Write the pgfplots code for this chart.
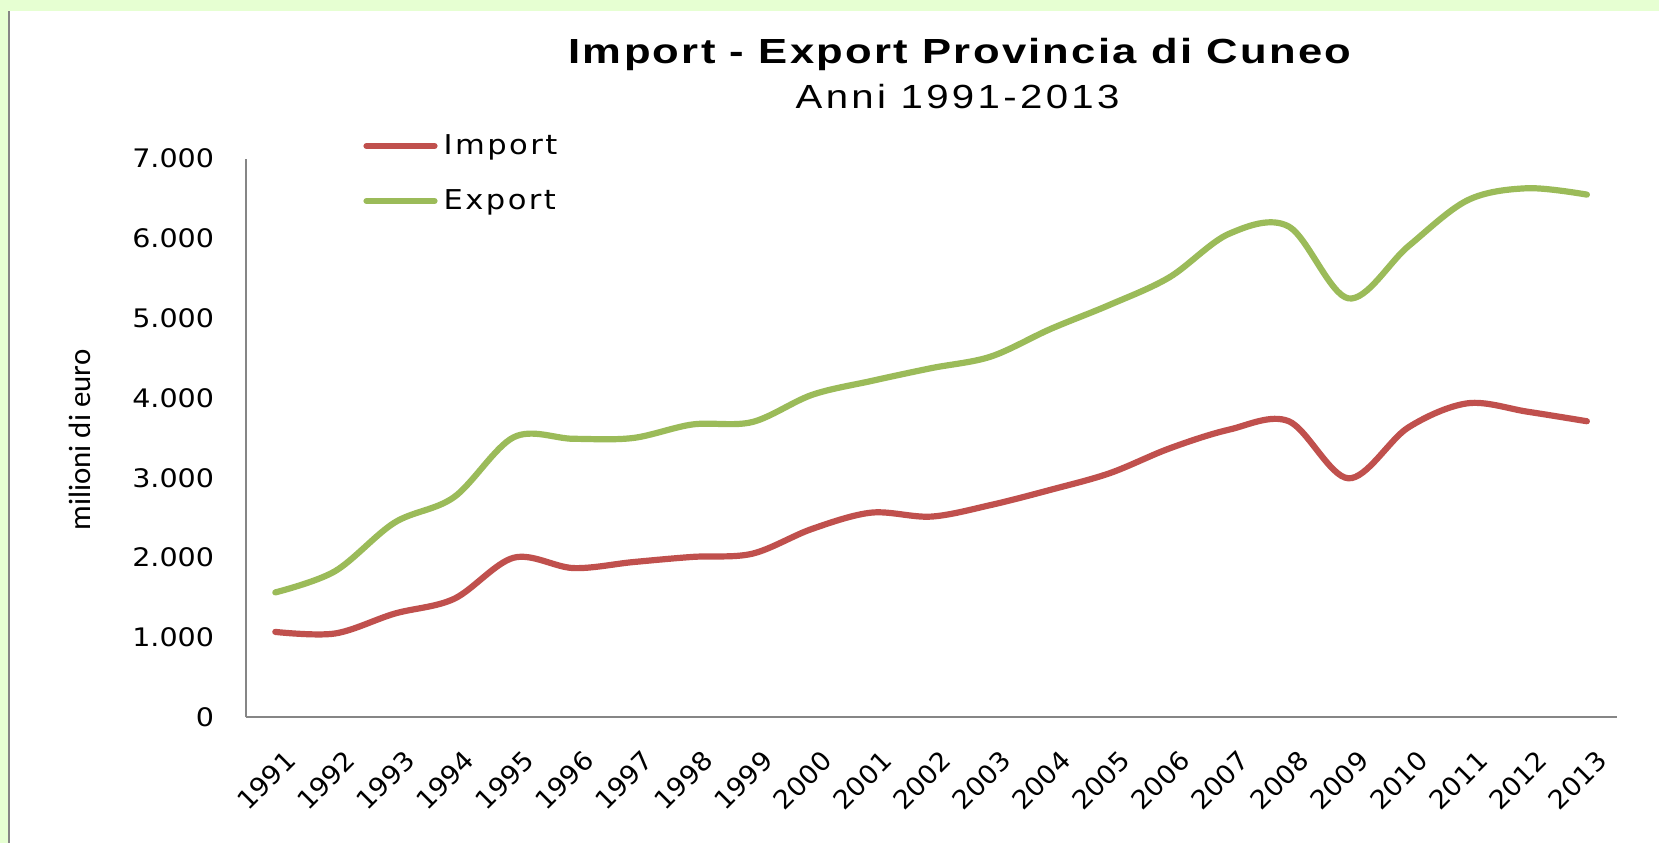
\documentclass[border=0pt]{standalone}
\usepackage{fontspec}
\usepackage{pgfplots}
\pgfplotsset{compat=1.18}
\setmainfont{DejaVu Sans}
\newfontfamily\titlefont[FakeStretch=1.25,LetterSpace=6.5]{Liberation Sans}
\newfontfamily\subfont[FakeStretch=1.2,LetterSpace=10]{Liberation Sans}
\newfontfamily\tickfont[FakeStretch=1.12]{DejaVu Sans}
\newfontfamily\xtickfont[FakeStretch=1.05]{DejaVu Sans}
\newfontfamily\legfont[FakeStretch=1.12,LetterSpace=9]{DejaVu Sans}
\newfontfamily\ylfont{Carlito}
\definecolor{imp}{RGB}{192,80,77}
\definecolor{exp}{RGB}{155,187,89}
\definecolor{bgg}{RGB}{230,255,210}
\definecolor{axg}{RGB}{134,134,134}
\begin{document}
\begin{tikzpicture}
\fill[white] (0,0) rectangle (829.5bp,421.5bp);
\fill[bgg] (0,416bp) rectangle (829.5bp,421.5bp);
\fill[bgg] (0,0) rectangle (4bp,416bp);
\fill[axg] (4bp,0) rectangle (5bp,416bp);
\begin{axis}[
  at={(122.75bp,62.85bp)}, anchor=south west,
  scale only axis, width=685.6bp, height=279.3bp,
  xmin=1990.5, xmax=2013.5, ymin=0, ymax=7000,
  axis lines*=left,
  axis line style={axg, line width=1bp},
  major tick length=0pt,
  xtick={1991,...,2013},
  ytick={0,1000,...,7000},
  /pgf/number format/assume math mode=true,
  xticklabel={\xtickfont\fontsize{13}{15}\selectfont\pgfmathprintnumber[1000 sep={}]{\tick}},
  yticklabel={\tickfont\fontsize{12.8}{15}\selectfont\pgfmathprintnumber[1000 sep={.}]{\tick}},
  x tick label style={rotate=45, anchor=north east, inner sep=0pt, xshift=-8bp, yshift=-14bp},
  y tick label style={anchor=east, inner sep=0pt, xshift=-15.5bp},
  clip=false,
  legend style={at={(axis description cs:0.0857,0.9735)}, anchor=west, draw=none, fill=none,
    inner sep=0pt, row sep=0pt, column sep=3bp,
    nodes={inner sep=0pt, minimum height=27.5bp, font=\legfont\fontsize{13.7}{16}\selectfont}},
  legend cell align=left,
  legend image code/.code={\draw[#1, line cap=round] (0bp,0bp) -- (34bp,0bp);},
]
\addplot[imp, line width=3.1bp, smooth, tension=0.55, line cap=round] coordinates {
(1991,1070) (1992,1050) (1993,1299) (1994,1485) (1995,2000) (1996,1870) (1997,1945)
(1998,2010) (1999,2050) (2000,2360) (2001,2565) (2002,2515) (2003,2660) (2004,2850)
(2005,3060) (2006,3370) (2007,3605) (2008,3710) (2009,2995) (2010,3630) (2011,3935)
(2012,3830) (2013,3710)};
\addlegendentry{Import}
\addplot[exp, line width=3.1bp, smooth, tension=0.55, line cap=round] coordinates {
(1991,1565) (1992,1830) (1993,2440) (1994,2760) (1995,3510) (1996,3490) (1997,3500)
(1998,3670) (1999,3700) (2000,4040) (2001,4215) (2002,4375) (2003,4520) (2004,4865)
(2005,5170) (2006,5515) (2007,6060) (2008,6150) (2009,5250) (2010,5900) (2011,6480)
(2012,6630) (2013,6550)};
\addlegendentry{Export}
\end{axis}
\node[anchor=base] at (480bp,389.7bp) {\titlefont\bfseries\fontsize{17.5}{20}\selectfont Import - Export Provincia di Cuneo};
\node[anchor=base] at (478.8bp,367bp) {\subfont\fontsize{16.8}{20}\selectfont Anni 1991-2013};
\node[rotate=90] at (39.7bp,201.5bp) {\ylfont\fontsize{15.5}{17}\selectfont milioni di euro};
\end{tikzpicture}
\end{document}
